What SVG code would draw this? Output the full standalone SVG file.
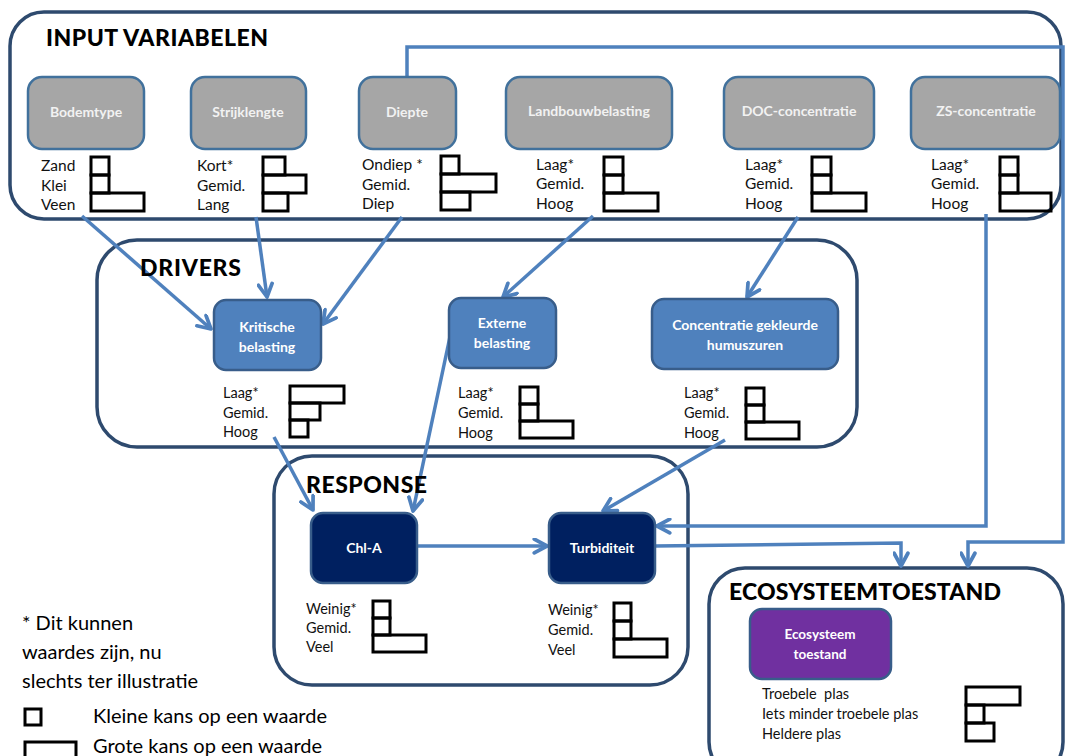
<svg xmlns="http://www.w3.org/2000/svg" width="1065" height="756" viewBox="0 0 1065 756">
<style>
.grp{fill:#ffffff;stroke:#2e4a6e;stroke-width:3.5}
.gray{fill:#a6a6a6;stroke:#41719c;stroke-width:2.5}
.blue{fill:#4f81bd;stroke:#385d8a;stroke-width:2.5}
.navy{fill:#002060;stroke:#385d8a;stroke-width:2.5}
.purple{fill:#7030a0;stroke:#385d8a;stroke-width:2.5}
.ntxt{font-family:Lato,'Open Sans',sans-serif;font-weight:bold;fill:#ffffff;text-anchor:middle}
.gtxt{font-family:Lato,'Open Sans',sans-serif;font-weight:bold;fill:#f2f2f2;text-anchor:middle;font-size:14px}
.head{font-family:Lato,'Open Sans',sans-serif;font-weight:900;fill:#000000;font-size:23px}
.lbl{font-family:Lato,'Open Sans',sans-serif;fill:#111111;font-size:15.5px}
.lbl2{font-family:Lato,'Open Sans',sans-serif;fill:#111111;font-size:14.5px}
.leg{font-family:Lato,'Open Sans',sans-serif;fill:#000000;font-size:20px}
.bar{fill:none;stroke:#000000;stroke-width:3}
.arr{fill:none;stroke:#4f81bd;stroke-width:3.5;stroke-linejoin:miter;marker-end:url(#ah)}
</style>
<defs>
<marker id="ah" viewBox="0 0 16 16" refX="14" refY="8" markerWidth="17" markerHeight="17" markerUnits="userSpaceOnUse" orient="auto">
<path d="M2,1.5 L14,8 L2,14.5" fill="none" stroke="#4f81bd" stroke-width="3.5" stroke-linecap="round" stroke-linejoin="round"/>
</marker>
</defs>
<rect width="1065" height="756" fill="#ffffff"/>

<!-- group containers -->
<g id="group-input"><rect class="grp" x="10" y="12" width="1051" height="207" rx="34"/></g>
<g id="group-drivers"><rect class="grp" x="97" y="240" width="760" height="207" rx="40"/></g>
<g id="group-response"><rect class="grp" x="274" y="456" width="414" height="229" rx="38"/></g>
<g id="group-eco"><rect class="grp" x="709" y="568" width="354" height="210" rx="36"/></g>

<!-- connectors -->
<g id="connectors">
<path class="arr" d="M82,216 L211,329"/>
<path class="arr" d="M256,217 L267,297"/>
<path class="arr" d="M402,217 L323,324"/>
<path class="arr" d="M593,216 L503,297"/>
<path class="arr" d="M798,217 L747,297"/>
<path class="arr" d="M274,437 L313,510"/>
<path class="arr" d="M451,332 L413,511"/>
<path class="arr" d="M725,440 L603,511"/>
<path class="arr" d="M417,546 L547,546"/>
<path class="arr" d="M986,214 L986,526 L657,526"/>
<path class="arr" d="M655,546 L901,543 L901,566"/>
<path class="arr" d="M407,77 L407,47 L1063,47 L1063,542 L968,542 L968,566"/>
</g>

<!-- headings -->
<text class="head" x="46" y="46" textLength="222">INPUT VARIABELEN</text>
<text class="head" x="140" y="276" textLength="101">DRIVERS</text>
<text class="head" x="306" y="493" textLength="121">RESPONSE</text>
<text class="head" x="729" y="600" textLength="272">ECOSYSTEEMTOESTAND</text>

<!-- input nodes -->
<g id="node-bodemtype">
<rect class="gray" x="28" y="77" width="116" height="72" rx="14"/>
<text class="gtxt" x="86" y="117">Bodemtype</text>
<text class="lbl" x="41" y="171">Zand</text><text class="lbl" x="41" y="191">Klei</text><text class="lbl" x="41" y="210">Veen</text>
<rect class="bar" x="91" y="157" width="18" height="18"/><rect class="bar" x="91" y="175" width="18" height="18"/><rect class="bar" x="91" y="193" width="53" height="18"/>
</g>
<g id="node-strijklengte">
<rect class="gray" x="191" y="77" width="115" height="72" rx="14"/>
<text class="gtxt" x="248" y="117">Strijklengte</text>
<text class="lbl" x="197" y="171">Kort*</text><text class="lbl" x="197" y="191">Gemid.</text><text class="lbl" x="197" y="210">Lang</text>
<rect class="bar" x="263" y="157" width="22" height="18"/><rect class="bar" x="263" y="175" width="43" height="18"/><rect class="bar" x="263" y="193" width="25" height="18"/>
</g>
<g id="node-diepte">
<rect class="gray" x="359" y="77" width="97" height="72" rx="14"/>
<text class="gtxt" x="407" y="117">Diepte</text>
<text class="lbl" x="362" y="170">Ondiep *</text><text class="lbl" x="362" y="190">Gemid.</text><text class="lbl" x="362" y="209">Diep</text>
<rect class="bar" x="441" y="156" width="18" height="18"/><rect class="bar" x="441" y="174" width="55" height="18"/><rect class="bar" x="441" y="192" width="29" height="18"/>
</g>
<g id="node-landbouwbelasting">
<rect class="gray" x="506" y="77" width="166" height="72" rx="14"/>
<text class="gtxt" x="589" y="116">Landbouwbelasting</text>
<text class="lbl" x="536" y="170">Laag*</text><text class="lbl" x="536" y="189">Gemid.</text><text class="lbl" x="536" y="209">Hoog</text>
<rect class="bar" x="604" y="157" width="19" height="18"/><rect class="bar" x="604" y="175" width="19" height="18"/><rect class="bar" x="604" y="193" width="54" height="18"/>
</g>
<g id="node-doc">
<rect class="gray" x="724" y="77" width="150" height="72" rx="14"/>
<text class="gtxt" x="799" y="116">DOC-concentratie</text>
<text class="lbl" x="745" y="170">Laag*</text><text class="lbl" x="745" y="189">Gemid.</text><text class="lbl" x="745" y="209">Hoog</text>
<rect class="bar" x="812" y="157" width="19" height="18"/><rect class="bar" x="812" y="175" width="19" height="18"/><rect class="bar" x="812" y="193" width="54" height="18"/>
</g>
<g id="node-zs">
<rect class="gray" x="911" y="77" width="149" height="72" rx="14"/>
<text class="gtxt" x="986" y="116">ZS-concentratie</text>
<text class="lbl" x="931" y="170">Laag*</text><text class="lbl" x="931" y="189">Gemid.</text><text class="lbl" x="931" y="209">Hoog</text>
<rect class="bar" x="1000" y="157" width="18" height="18"/><rect class="bar" x="1000" y="175" width="18" height="18"/><rect class="bar" x="1000" y="193" width="51" height="18"/>
</g>

<!-- drivers -->
<g id="node-kritische">
<rect class="blue" x="214" y="300" width="107" height="70" rx="12"/>
<text class="ntxt" x="267" y="332" font-size="14">Kritische</text>
<text class="ntxt" x="267" y="352" font-size="14">belasting</text>
<text class="lbl2" x="223" y="398">Laag*</text><text class="lbl2" x="223" y="418">Gemid.</text><text class="lbl2" x="223" y="437">Hoog</text>
<rect class="bar" x="290" y="386" width="54" height="17"/><rect class="bar" x="290" y="403" width="30" height="17"/><rect class="bar" x="290" y="420" width="18" height="17"/>
</g>
<g id="node-externe">
<rect class="blue" x="449" y="298" width="107" height="70" rx="12"/>
<text class="ntxt" x="502" y="328" font-size="14">Externe</text>
<text class="ntxt" x="502" y="348" font-size="14">belasting</text>
<text class="lbl2" x="458" y="398">Laag*</text><text class="lbl2" x="458" y="418">Gemid.</text><text class="lbl2" x="458" y="438">Hoog</text>
<rect class="bar" x="520" y="387" width="18" height="17"/><rect class="bar" x="520" y="404" width="18" height="17"/><rect class="bar" x="520" y="421" width="53" height="17"/>
</g>
<g id="node-humuszuren">
<rect class="blue" x="652" y="299" width="186" height="70" rx="12"/>
<text class="ntxt" x="745" y="330" font-size="14">Concentratie gekleurde</text>
<text class="ntxt" x="745" y="350" font-size="14">humuszuren</text>
<text class="lbl2" x="684" y="398">Laag*</text><text class="lbl2" x="684" y="418">Gemid.</text><text class="lbl2" x="684" y="438">Hoog</text>
<rect class="bar" x="746" y="388" width="18" height="17"/><rect class="bar" x="746" y="405" width="18" height="17"/><rect class="bar" x="746" y="422" width="53" height="17"/>
</g>

<!-- response -->
<g id="node-chla">
<rect class="navy" x="311" y="513" width="106" height="70" rx="12"/>
<text class="ntxt" x="364" y="553" font-size="14">Chl-A</text>
<text class="lbl2" x="306" y="614">Weinig*</text><text class="lbl2" x="306" y="633">Gemid.</text><text class="lbl2" x="306" y="652">Veel</text>
<rect class="bar" x="373" y="601" width="17" height="17"/><rect class="bar" x="373" y="618" width="17" height="17"/><rect class="bar" x="373" y="635" width="53" height="17"/>
</g>
<g id="node-turbiditeit">
<rect class="navy" x="549" y="513" width="106" height="70" rx="12"/>
<text class="ntxt" x="602" y="553" font-size="14">Turbiditeit</text>
<text class="lbl2" x="548" y="615">Weinig*</text><text class="lbl2" x="548" y="635">Gemid.</text><text class="lbl2" x="548" y="655">Veel</text>
<rect class="bar" x="614" y="603" width="17" height="18"/><rect class="bar" x="614" y="621" width="17" height="18"/><rect class="bar" x="614" y="639" width="53" height="18"/>
</g>

<!-- ecosystem -->
<g id="node-ecosysteem">
<rect class="purple" x="750" y="609" width="141" height="70" rx="12"/>
<text class="ntxt" x="820" y="639" font-size="13.5">Ecosysteem</text>
<text class="ntxt" x="820" y="659" font-size="13.5">toestand</text>
<text class="lbl2" x="762" y="699" xml:space="preserve">Troebele  plas</text>
<text class="lbl2" x="762" y="719">Iets minder troebele plas</text>
<text class="lbl2" x="762" y="739">Heldere plas</text>
<rect class="bar" x="966" y="687" width="54" height="18"/><rect class="bar" x="966" y="705" width="18" height="18"/><rect class="bar" x="966" y="723" width="28" height="18"/>
</g>

<!-- legend -->
<g id="legend">
<text class="leg" x="22" y="630">* Dit kunnen</text>
<text class="leg" x="22" y="659">waardes zijn, nu</text>
<text class="leg" x="22" y="688">slechts ter illustratie</text>
<rect class="bar" x="25" y="709" width="16" height="16"/>
<text class="leg" x="93" y="723">Kleine kans op een waarde</text>
<rect class="bar" x="25" y="742" width="51" height="20"/>
<text class="leg" x="93" y="753">Grote kans op een waarde</text>
</g>
</svg>
